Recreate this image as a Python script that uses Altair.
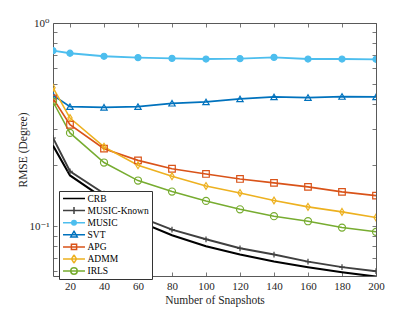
import altair as alt
import pandas as pd

snapshots = [10, 20, 40, 60, 80, 100, 120, 140, 160, 180, 200]
series_names = ["CRB", "MUSIC-Known", "MUSIC", "SVT", "APG", "ADMM", "IRLS"]

crb = [0.2495, 0.178, 0.137, 0.106, 0.0904, 0.0798, 0.0727, 0.0671, 0.063, 0.0595, 0.0566]
music_known = [0.272, 0.1866, 0.145, 0.112, 0.0964, 0.0864, 0.078, 0.0727, 0.0671, 0.063, 0.0602]
music = [0.731, 0.71, 0.686, 0.676, 0.670, 0.665, 0.668, 0.678, 0.665, 0.665, 0.663]
svt = [0.441, 0.388, 0.385, 0.388, 0.403, 0.409, 0.423, 0.433, 0.430, 0.435, 0.433]
apg = [0.426, 0.316, 0.241, 0.211, 0.192, 0.181, 0.171, 0.1636, 0.1563, 0.1477, 0.1416]
admm = [0.481, 0.341, 0.246, 0.1996, 0.1763, 0.158, 0.146, 0.134, 0.1247, 0.1178, 0.1105]
irls = [0.410, 0.288, 0.206, 0.168, 0.1483, 0.1334, 0.1213, 0.1122, 0.106, 0.0986, 0.094]

x_ticks = [20, 40, 60, 80, 100, 120, 140, 160, 180, 200]
y_ticks = [0.06, 0.07, 0.08, 0.09, 0.1, 0.2, 0.3, 0.4, 0.5, 0.6, 0.7, 0.8, 0.9, 1.0]

line_colors = ["#000000", "#404040", "#4DBEEE", "#0072BD", "#D95319", "#EDB120", "#77AC30"]
marker_stroke = ["transparent", "#404040", "#4DBEEE", "#0072BD", "#D95319", "#EDB120", "#77AC30"]
marker_fill = ["transparent", "transparent", "#4DBEEE", "transparent", "transparent", "transparent", "transparent"]
marker_shape = ["circle", "M-1,0L1,0M0,-1L0,1", "circle", "triangle-up", "square",
                "M0,-1L0.62,0L0,1L-0.62,0Z", "circle"]
marker_size = [30, 50, 16, 45, 28, 64, 45]
line_widths = [2, 1.5, 1.5, 1.5, 1.5, 1.5, 1.5]

# legend glyphs: a line segment with the series' marker on top (units of 4.5 px)
legend_glyphs = [
    "M-2.44,0L2.44,0",
    "M-2.44,0L2.44,0M-0.78,0L0.78,0M0,-0.78L0,0.78",
    "M-2.44,0L2.44,0M0.5,0A0.5,0.5 0 1,1 -0.5,0A0.5,0.5 0 1,1 0.5,0Z",
    "M-2.44,0L2.44,0M0,-0.8L0.72,0.48L-0.72,0.48Z",
    "M-2.44,0L2.44,0M-0.58,-0.58L0.58,-0.58L0.58,0.58L-0.58,0.58Z",
    "M-2.44,0L2.44,0M0,-0.9L0.56,0L0,0.9L-0.56,0Z",
    "M-2.44,0L2.44,0M0.72,0A0.72,0.72 0 1,1 -0.72,0A0.72,0.72 0 1,1 0.72,0Z",
]
legend_fill = ["transparent", "transparent", "#4DBEEE", "transparent", "transparent", "transparent", "transparent"]

marker_keys = [n + " " for n in series_names]
legend_keys = series_names

rows = []
for name, key, vals in zip(series_names, marker_keys,
                           [crb, music_known, music, svt, apg, admm, irls]):
    for x, v in zip(snapshots, vals):
        rows.append({"snap": x, "rmse": v, "series": name, "series2": key})
df = pd.DataFrame(rows)

FONT = "Liberation Serif, Times New Roman, DejaVu Serif, serif"
TXT = "#262626"
TICK = "#555555"

x_scale = alt.Scale(domain=[10, 200], nice=False, zero=False)
y_scale = alt.Scale(type="log", domain=[0.057, 1], nice=False)

ylabel_expr = "datum.value == 1 ? '10⁰' : (abs(datum.value - 0.1) < 1e-9 ? '10⁻¹' : '')"

x_bottom = alt.Axis(orient="bottom", values=x_ticks, offset=-4, tickSize=4, domain=False,
                    grid=False, labelPadding=4, labelFlush=False, labelOverlap=False,
                    title="Number of Snapshots", titlePadding=3, labelFont=FONT,
                    titleFont=FONT, labelFontSize=11, titleFontSize=11.5,
                    titleFontWeight="normal", labelColor=TXT, titleColor=TXT,
                    tickColor=TICK, tickWidth=0.8)
y_left = alt.Axis(orient="left", values=y_ticks, offset=-4, tickSize=4, domain=False,
                  grid=False, labelPadding=4, labelFlush=False, labelOverlap=False,
                  labelExpr=ylabel_expr, title="RMSE (Degree)", titlePadding=0,
                  labelFont=FONT, titleFont=FONT, labelFontSize=11, titleFontSize=11.5,
                  titleFontWeight="normal", labelColor=TXT, titleColor=TXT,
                  tickColor=TICK, tickWidth=0.8)
x_top = alt.Axis(orient="top", values=x_ticks, offset=-4, tickSize=4, domain=False,
                 grid=False, labels=False, title=None, tickColor=TICK, tickWidth=0.8)
y_right = alt.Axis(orient="right", values=y_ticks, offset=-4, tickSize=4, domain=False,
                   grid=False, labels=False, title=None, tickColor=TICK, tickWidth=0.8)

legend = alt.Legend(orient="none", legendX=6, legendY=168, title=None,
                    symbolSize=81, symbolStrokeWidth=1.5, symbolOffset=6.5,
                    labelOffset=8, labelFont=FONT, labelFontSize=9.5,
                    labelColor="#000000", fillColor="#ffffff", strokeColor="#333333",
                    padding=3, rowPadding=2.1, clipHeight=9, labelLimit=200,
                    symbolOpacity=1)

lines = alt.Chart(df).mark_line(clip=True).encode(
    x=alt.X("snap:Q", scale=x_scale, axis=x_bottom),
    y=alt.Y("rmse:Q", scale=y_scale, axis=y_left),
    color=alt.Color("series:N", scale=alt.Scale(domain=series_names, range=line_colors),
                    legend=None),
    strokeWidth=alt.StrokeWidth("series:N",
                                scale=alt.Scale(domain=series_names, range=line_widths),
                                legend=None),
    detail="series:N",
)

points = alt.Chart(df).transform_filter("datum.series != 'CRB'").mark_point(
    opacity=1, strokeWidth=1.2, clip=True
).encode(
    x=alt.X("snap:Q", scale=x_scale, axis=x_top),
    y=alt.Y("rmse:Q", scale=y_scale, axis=y_right),
    shape=alt.Shape("series2:N", scale=alt.Scale(domain=marker_keys, range=marker_shape),
                    legend=None),
    stroke=alt.Stroke("series2:N", scale=alt.Scale(domain=marker_keys, range=marker_stroke),
                      legend=None),
    fill=alt.Fill("series2:N", scale=alt.Scale(domain=marker_keys, range=marker_fill),
                  legend=None),
    size=alt.Size("series2:N", scale=alt.Scale(domain=marker_keys, range=marker_size),
                  legend=None),
)

legend_layer = alt.Chart(df).transform_filter("false").mark_point(
    opacity=1, strokeWidth=1.5
).encode(
    x=alt.X("snap:Q", scale=x_scale, axis=None),
    y=alt.Y("rmse:Q", scale=y_scale, axis=None),
    shape=alt.Shape("series:N", scale=alt.Scale(domain=legend_keys, range=legend_glyphs),
                    legend=legend),
    stroke=alt.Stroke("series:N", scale=alt.Scale(domain=legend_keys, range=line_colors),
                      legend=legend),
    fill=alt.Fill("series:N", scale=alt.Scale(domain=legend_keys, range=legend_fill),
                  legend=legend),
)

chart = alt.layer(lines, points, legend_layer).resolve_axis(
    x="independent", y="independent"
).resolve_scale(
    stroke="independent", fill="independent", shape="independent"
).properties(
    width=323, height=253,
    autosize=alt.AutoSizeParams(type="none"),
    padding={"left": 45, "top": 15, "right": 20, "bottom": 34},
    background="#ffffff",
).configure_view(stroke="#595959", strokeWidth=1)

chart.save("out.html", embed_options={"renderer": "svg", "actions": False})
